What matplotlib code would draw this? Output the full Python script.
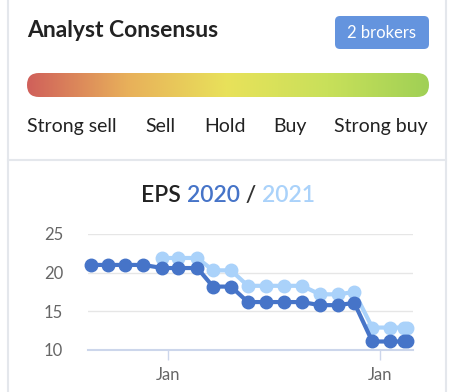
import matplotlib
matplotlib.use("Agg")
import matplotlib.pyplot as plt
import matplotlib.dates as mdates
from matplotlib.patches import FancyBboxPatch
from matplotlib.colors import LinearSegmentedColormap
import numpy as np
import pandas as pd

plt.rcParams['font.family'] = ['Lato', 'DejaVu Sans']

# data
dates = pd.to_datetime([
    "2018-08-21", "2018-09-20", "2018-10-19", "2018-11-19", "2018-12-22",
    "2019-01-18", "2019-02-20", "2019-03-19", "2019-04-19", "2019-05-18",
    "2019-06-18", "2019-07-19", "2019-08-19", "2019-09-19", "2019-10-20",
    "2019-11-17", "2019-12-18", "2020-01-18", "2020-02-11", "2020-02-16",
])
eps_2020 = [21.0, 21.0, 21.0, 21.0, 20.6, 20.6, 20.6, 18.2, 18.2, 16.2,
            16.2, 16.2, 16.2, 15.8, 15.8, 16.1, 11.1, 11.1, 11.1, 11.1]
eps_2021 = [None, None, None, None, 21.9, 21.9, 21.9, 20.3, 20.3, 18.3,
            18.3, 18.3, 18.3, 17.2, 17.2, 17.5, 12.9, 12.9, 12.9, 12.9]
ratings = ["Strong sell", "Sell", "Hold", "Buy", "Strong buy"]
n_brokers = 2

dark = "#4674c8"
light = "#aad2fa"
W, H = 456, 392

fig = plt.figure(figsize=(W / 100, H / 100), dpi=100)
fig.patch.set_facecolor("white")

# overlay in pixel coords
bg = fig.add_axes([0, 0, 1, 1])
bg.set_xlim(0, W)
bg.set_ylim(H, 0)
bg.axis("off")

border = "#e4e7ec"
card = FancyBboxPatch((8, -10), 438, 420, boxstyle="round,pad=0,rounding_size=8",
                      fc="white", ec=border, lw=1.5)
bg.add_patch(card)
bg.plot([8, 446], [160, 160], color=border, lw=1.5)

bg.text(27, 37, "Analyst Consensus", fontsize=16.5, fontweight="bold", color="#222222")

badge = FancyBboxPatch((335, 16), 94, 33, boxstyle="round,pad=0,rounding_size=5",
                       fc="#6494de", ec="none")
bg.add_patch(badge)
bg.text(382, 33, f"{n_brokers} brokers", fontsize=12, color="white", ha="center", va="center")

# gradient bar
cmap = LinearSegmentedColormap.from_list("cons", ["#d0605a", "#e8b05a", "#e8e25a", "#c8e05a", "#a0d055"])
grad = np.linspace(0, 1, 256).reshape(1, -1)
im = bg.imshow(grad, cmap=cmap, extent=(27, 429, 97, 73), aspect="auto", zorder=2)
clip = FancyBboxPatch((27, 73), 402, 24, boxstyle="round,pad=0,rounding_size=12",
                      fc="none", ec="none", transform=bg.transData)
bg.add_patch(clip)
im.set_clip_path(clip)
bg.set_xlim(0, W)
bg.set_ylim(H, 0)

label_x = [27, 145, 204, 273, 428]
label_ha = ["left", "left", "left", "left", "right"]
for lab, lx, ha in zip(ratings, label_x, label_ha):
    bg.text(lx, 132, lab, fontsize=14, color="#222222", ha=ha)

# chart title in pieces, centred
renderer = fig.canvas.get_renderer()
pieces = [("EPS ", "#222222"), ("2020", dark), (" / ", "#333333"), ("2021", light)]
texts = []
widths = []
for s, c in pieces:
    t = bg.text(0, 202, s, fontsize=16.5, fontweight="semibold", color=c)
    widths.append(t.get_window_extent(renderer=renderer).width)
    texts.append(t)
x0 = 228 - sum(widths) / 2
for t, w in zip(texts, widths):
    t.set_x(x0)
    x0 += w

# chart axes
ax = fig.add_axes([88 / W, (H - 350) / H, (413 - 88) / W, (350 - 234) / H])
ax.plot(dates, eps_2021, color=light, lw=3, marker="o", ms=9, zorder=3, clip_on=False)
ax.plot(dates, eps_2020, color=dark, lw=3, marker="o", ms=9, zorder=4, clip_on=False)
ax.set_ylim(10, 25)
ax.set_yticks([10, 15, 20, 25])
ax.set_xlim(pd.Timestamp("2018-08-16"), pd.Timestamp("2020-02-26"))
ax.xaxis.set_major_locator(mdates.MonthLocator(bymonth=1))
ax.xaxis.set_major_formatter(mdates.DateFormatter("%b"))
ax.grid(axis="y", color="#e6e6e6", lw=1)
ax.set_axisbelow(True)
for s in ["top", "right", "left"]:
    ax.spines[s].set_visible(False)
ax.spines["bottom"].set_color("#ccd6eb")
ax.spines["bottom"].set_linewidth(1.5)
ax.tick_params(axis="y", length=0, pad=18, labelsize=12, labelcolor="#666666")
ax.tick_params(axis="x", length=7, width=1, color="#ccd6eb", pad=5, labelsize=12, labelcolor="#666666")
ax.patch.set_alpha(0)

fig.savefig("out.png", dpi=100)
